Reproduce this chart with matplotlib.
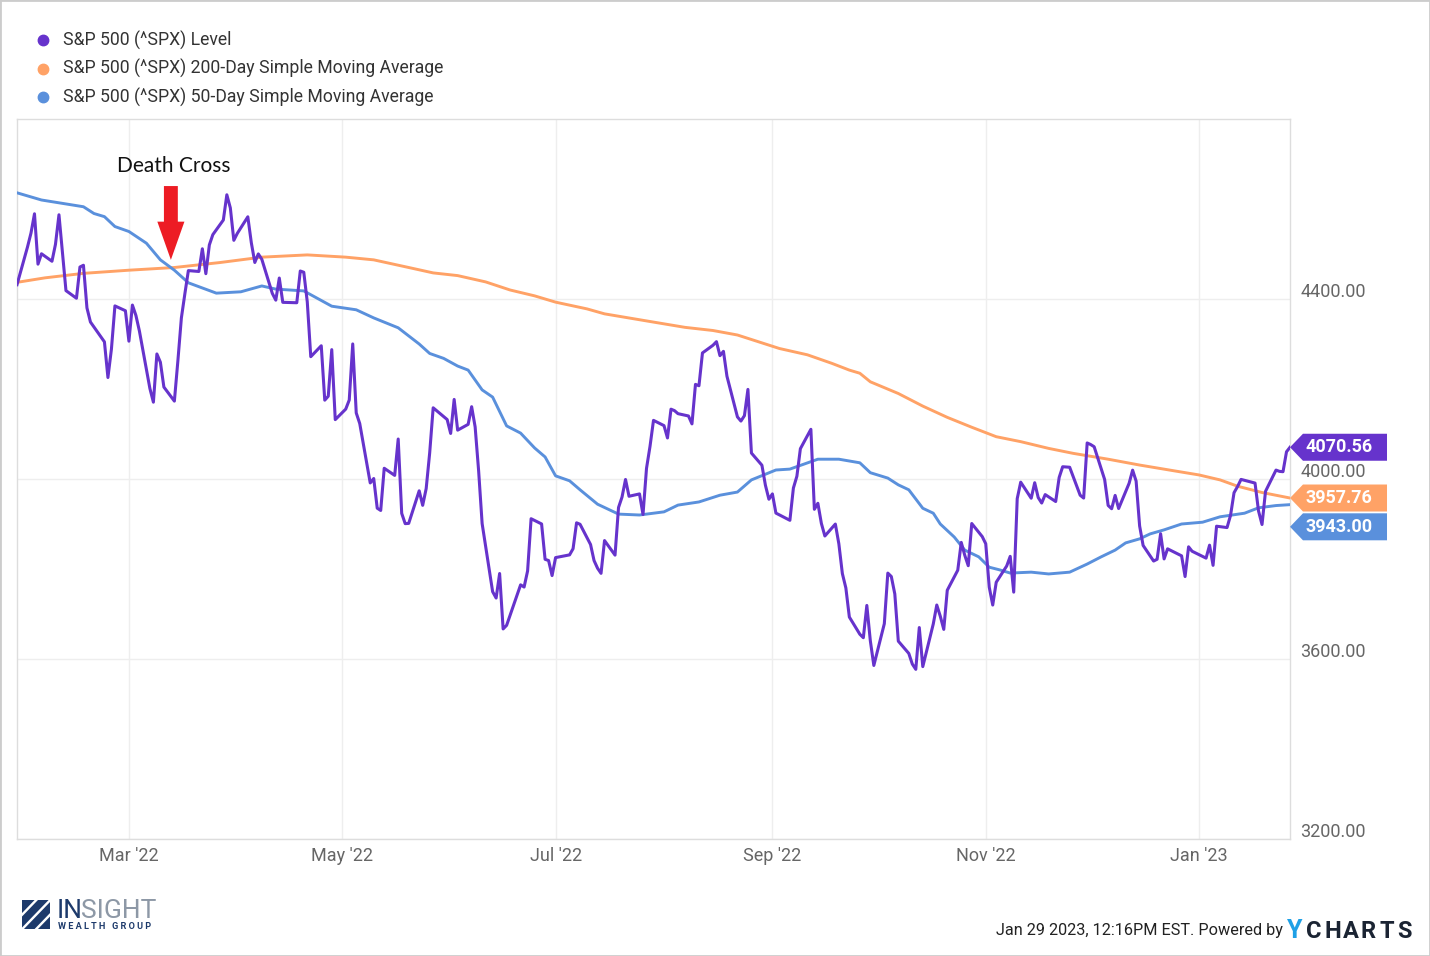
import matplotlib
matplotlib.use("Agg")
import matplotlib.pyplot as plt
import matplotlib.dates as mdates
import matplotlib.transforms as mtransforms
from matplotlib.patches import Polygon, Rectangle
from matplotlib.ticker import FuncFormatter
import pandas as pd

plt.rcParams['font.family'] = ['Roboto', 'DejaVu Sans']

PURPLE = '#6633cc'
ORANGE = '#ffa266'
BLUE = '#5a90dc'

# trading days Jan 28 2022 - Jan 27 2023
market_holidays = ['2022-02-21', '2022-04-15', '2022-05-30', '2022-06-20', '2022-07-04',
                   '2022-09-05', '2022-11-24', '2022-12-26', '2023-01-02', '2023-01-16']
close_dates = pd.bdate_range('2022-01-28', '2023-01-27', freq='C', holidays=market_holidays)

# S&P 500 level, month by month
spx_jan22 = [4431.85, 4515.55]
spx_feb22 = [4546.54, 4589.38, 4477.44, 4500.53, 4483.87, 4521.54, 4587.18, 4504.08, 4418.64, 4401.67,
             4471.07, 4475.01, 4380.26, 4348.87, 4304.76, 4225.50, 4288.70, 4384.65, 4373.94]
spx_mar22 = [4306.26, 4386.54, 4363.49, 4328.87, 4201.09, 4170.70, 4277.88, 4259.52, 4204.31, 4173.11,
             4262.45, 4357.86, 4411.67, 4463.12, 4461.18, 4511.61, 4456.24, 4520.16, 4543.06, 4575.52,
             4631.60, 4602.45, 4530.41]
spx_apr22 = [4545.86, 4582.64, 4525.12, 4481.15, 4500.21, 4488.28, 4412.53, 4397.45, 4446.59, 4392.59,
             4391.69, 4462.21, 4459.45, 4393.66, 4271.78, 4296.12, 4175.20, 4183.96, 4287.50, 4131.93]
spx_may22 = [4155.38, 4175.48, 4300.17, 4146.87, 4123.34, 3991.24, 4001.05, 3935.18, 3930.08, 4023.89,
             4008.01, 4088.85, 3923.68, 3900.79, 3901.36, 3973.75, 3941.48, 3978.73, 4057.84, 4158.24,
             4132.15]
spx_jun22 = [4101.23, 4176.82, 4108.54, 4121.43, 4160.68, 4115.77, 4017.82, 3900.86, 3749.63, 3735.48,
             3789.99, 3666.77, 3674.84, 3764.79, 3759.89, 3795.73, 3911.74, 3900.11, 3821.55, 3818.83,
             3785.38]
spx_jul22 = [3825.33, 3831.39, 3845.08, 3902.62, 3899.38, 3854.43, 3818.80, 3801.78, 3790.38, 3863.16,
             3830.85, 3936.69, 3959.90, 3998.95, 3961.63, 3966.84, 3921.05, 4023.61, 4072.43, 4130.29]
spx_aug22 = [4118.63, 4091.19, 4155.17, 4151.94, 4145.19, 4140.06, 4122.47, 4210.24, 4207.27, 4280.15,
             4297.14, 4305.20, 4274.04, 4283.74, 4228.48, 4137.99, 4128.73, 4140.77, 4199.12, 4057.66,
             4030.61, 3986.16, 3955.00]
spx_sep22 = [3966.85, 3924.26, 3908.19, 3979.87, 4006.18, 4067.36, 4110.41, 3932.69, 3946.01, 3901.35,
             3873.33, 3899.89, 3855.93, 3789.93, 3757.99, 3693.23, 3655.04, 3647.29, 3719.04, 3640.47,
             3585.62]
spx_oct22 = [3678.43, 3790.93, 3783.28, 3744.52, 3639.66, 3612.39, 3588.84, 3577.03, 3669.91, 3583.07,
             3677.95, 3719.98, 3695.16, 3665.78, 3752.75, 3797.34, 3859.11, 3830.60, 3807.30, 3901.06,
             3871.98]
spx_nov22 = [3856.10, 3759.69, 3719.89, 3770.55, 3806.80, 3828.11, 3748.57, 3956.37, 3992.93, 3957.25,
             3991.73, 3958.79, 3946.56, 3965.34, 3949.94, 4003.58, 4027.26, 4026.12, 3963.94, 3957.63,
             4080.11]
spx_dec22 = [4076.57, 4071.70, 3998.84, 3941.26, 3933.92, 3963.51, 3934.38, 3990.56, 4019.65, 3995.32,
             3895.75, 3852.36, 3817.66, 3821.62, 3878.44, 3822.39, 3844.82, 3829.25, 3783.22, 3849.28,
             3839.50]
spx_jan23 = [3824.14, 3852.97, 3808.10, 3895.08, 3892.09, 3919.25, 3969.61, 3983.17, 3999.09, 3990.97,
             3928.86, 3898.85, 3972.61, 4019.81, 4016.95, 4016.22, 4060.43, 4070.56]

spx_close = (spx_jan22 + spx_feb22 + spx_mar22 + spx_apr22 + spx_may22 + spx_jun22 + spx_jul22
             + spx_aug22 + spx_sep22 + spx_oct22 + spx_nov22 + spx_dec22 + spx_jan23)

# 200-day SMA
sma200_dates = ['2022-01-28', '2022-02-05', '2022-02-16', '2022-03-01', '2022-03-14', '2022-03-27',
                '2022-04-08', '2022-04-21', '2022-05-02', '2022-05-10', '2022-05-20', '2022-05-27',
                '2022-06-03', '2022-06-11', '2022-06-18', '2022-06-25', '2022-07-01', '2022-07-10',
                '2022-07-15', '2022-07-28', '2022-08-07', '2022-08-15', '2022-08-22', '2022-09-03',
                '2022-09-11', '2022-09-18', '2022-09-23', '2022-09-26', '2022-09-29', '2022-10-07',
                '2022-10-14', '2022-10-21', '2022-10-28', '2022-11-04', '2022-11-11', '2022-11-19',
                '2022-11-26', '2022-12-06', '2022-12-15', '2022-12-25', '2023-01-01', '2023-01-07',
                '2023-01-12', '2023-01-19', '2023-01-27']
sma200 = [4437, 4447, 4457, 4464, 4470, 4481,
          4493, 4498, 4493, 4487, 4470, 4458,
          4452, 4438, 4420, 4407, 4393, 4378,
          4367, 4350, 4337, 4330, 4320, 4290,
          4276, 4257, 4242, 4235, 4216, 4190,
          4162, 4137, 4115, 4094, 4083, 4068,
          4057, 4044, 4031, 4018, 4009, 3998,
          3984, 3970, 3957.76]

# 50-day SMA
sma50_dates = ['2022-01-28', '2022-02-04', '2022-02-16', '2022-02-19', '2022-02-22', '2022-02-25',
               '2022-03-01', '2022-03-06', '2022-03-10', '2022-03-14', '2022-03-18', '2022-03-26',
               '2022-04-02', '2022-04-08', '2022-04-12', '2022-04-20', '2022-04-28', '2022-05-05',
               '2022-05-10', '2022-05-17', '2022-05-23', '2022-05-26', '2022-05-30', '2022-06-03',
               '2022-06-06', '2022-06-10', '2022-06-13', '2022-06-17', '2022-06-21', '2022-06-25',
               '2022-06-28', '2022-07-01', '2022-07-05', '2022-07-08', '2022-07-13', '2022-07-19',
               '2022-07-25', '2022-08-01', '2022-08-05', '2022-08-11', '2022-08-17', '2022-08-22',
               '2022-08-26', '2022-09-02', '2022-09-06', '2022-09-10', '2022-09-14', '2022-09-20',
               '2022-09-26', '2022-09-29', '2022-10-04', '2022-10-07', '2022-10-10', '2022-10-14',
               '2022-10-17', '2022-10-19', '2022-10-23', '2022-10-26', '2022-10-30', '2022-11-02',
               '2022-11-05', '2022-11-08', '2022-11-14', '2022-11-19', '2022-11-25', '2022-11-30',
               '2022-12-04', '2022-12-08', '2022-12-11', '2022-12-15', '2022-12-18', '2022-12-22',
               '2022-12-27', '2023-01-02', '2023-01-07', '2023-01-14', '2023-01-18', '2023-01-23',
               '2023-01-27']
sma50 = [4636, 4620, 4605, 4590, 4583, 4561,
         4550, 4524, 4487, 4464, 4436, 4413,
         4416, 4429, 4422, 4418, 4384, 4376,
         4358, 4336, 4300, 4279, 4268, 4251,
         4242, 4198, 4182, 4118, 4102, 4069,
         4049, 4007, 3996, 3976, 3944, 3922,
         3920, 3927, 3942, 3949, 3964, 3971,
         3998, 4020, 4022, 4033, 4044, 4044,
         4036, 4014, 4002, 3987, 3976, 3935,
         3924, 3900, 3871, 3842, 3827, 3804,
         3798, 3791, 3793, 3789, 3793, 3811,
         3827, 3842, 3858, 3867, 3878, 3887,
         3900, 3904, 3916, 3924, 3936, 3941,
         3943.00]

series_names = ['S&P 500 (^SPX) Level',
                'S&P 500 (^SPX) 200-Day Simple Moving Average',
                'S&P 500 (^SPX) 50-Day Simple Moving Average']

W, H = 1430, 956
fig = plt.figure(figsize=(W / 100, H / 100), dpi=100)
fig.patch.set_facecolor('white')
ax = fig.add_axes([17 / W, (H - 839) / H, 1273 / W, 720 / H])

ax.plot(pd.to_datetime(sma200_dates), sma200, color=ORANGE, lw=2.1, zorder=3)
ax.plot(pd.to_datetime(sma50_dates), sma50, color=BLUE, lw=2.1, zorder=3)
ax.plot(close_dates, spx_close, color=PURPLE, lw=2.2, zorder=4)

ax.set_xlim(pd.Timestamp('2022-01-28'), pd.Timestamp('2023-01-27'))
ax.set_ylim(3200, 4800)
ax.yaxis.tick_right()
ax.set_yticks([3200, 3600, 4000, 4400])
ax.yaxis.set_major_formatter(FuncFormatter(lambda v, p: f'{v:.2f}'))
ax.xaxis.set_major_locator(mdates.MonthLocator(bymonth=[1, 3, 5, 7, 9, 11]))
ax.xaxis.set_major_formatter(mdates.DateFormatter("%b '%y"))
ax.tick_params(axis='both', length=0, labelsize=13, colors='#666666')
ax.tick_params(axis='x', pad=5.5)
ax.tick_params(axis='y', pad=7.5)
ax.grid(color='#eeeeee', lw=1)
ax.set_axisbelow(True)
for s in ax.spines.values():
    s.set_color('#dddddd')
    s.set_linewidth(1)

# y labels sit a bit above their gridlines
shift = mtransforms.ScaledTranslation(0, 9 / 100, fig.dpi_scale_trans)
for lab in ax.get_yticklabels():
    lab.set_transform(lab.get_transform() + shift)

# death cross marker
dc_date = pd.Timestamp('2022-03-13')
ax.annotate('', xy=(dc_date, 4487), xytext=(dc_date, 4651),
            arrowprops=dict(arrowstyle='simple,head_length=2.75,head_width=1.95,tail_width=1.0',
                            mutation_scale=10, color='#ed1c24', lw=0, shrinkA=0, shrinkB=0))
ax.text(pd.Timestamp('2022-03-13 21:00'), 4696, 'Death Cross', ha='center', va='center',
        fontsize=15, color='#111111', family=['Lato', 'DejaVu Sans'])

# value tags on the right
blend = mtransforms.blended_transform_factory(ax.transAxes, ax.transData)
tag_h = 60
tags = [(spx_close[-1], PURPLE), (sma200[-1], ORANGE), (sma50[-1], BLUE)]
prev = None
for val, col in sorted(tags, key=lambda t: -t[0]):
    c = val
    if prev is not None and prev - c < tag_h + 4:
        c = prev - tag_h - 4
    prev = c
    poly = Polygon([(1.0, c), (1.0102, c + tag_h / 2), (1.0762, c + tag_h / 2),
                    (1.0762, c - tag_h / 2), (1.0102, c - tag_h / 2)],
                   closed=True, transform=blend, facecolor=col, edgecolor='none',
                   clip_on=False, zorder=5)
    ax.add_patch(poly)
    ax.text(1.0385, c, f'{val:.2f}', transform=blend, ha='center', va='center',
            color='white', fontsize=13, fontweight='bold', clip_on=False, zorder=6)

# legend
for i, (name, col) in enumerate(zip(series_names, [PURPLE, ORANGE, BLUE])):
    y = 1 - (40 + i * 28.5) / H
    fig.add_artist(plt.Line2D([43 / W], [y], marker='o', markersize=7.5, color=col,
                              linestyle='none', transform=fig.transFigure))
    fig.text(63 / W, y, name, ha='left', va='center', fontsize=12.7, color='#333333')

# footer
fig.text(1283 / W, 1 - 931 / H, 'Jan 29 2023, 12:16PM EST. Powered by', ha='right', va='center',
         fontsize=11.7, color='#222222')
fig.text(1287 / W, 1 - 931 / H, 'Y', ha='left', va='center', fontsize=18, fontweight='bold',
         color='#1ea0e6')
for k, ch in enumerate('CHARTS'):
    fig.text((1306 + k * 18.3) / W, 1 - 931 / H, ch, ha='left', va='center', fontsize=17,
             fontweight='bold', color='#1b2433')

# insight logo
lax = fig.add_axes([22 / W, 1 - 929 / H, 28 / W, 29 / H])
lax.set_xlim(0, 1)
lax.set_ylim(0, 1)
lax.axis('off')
lax.add_patch(Rectangle((0, 0), 1, 1, facecolor='#1d3a6b', edgecolor='none'))
for off in [-0.55, -0.05, 0.45]:
    lax.add_patch(Polygon([(off, 0), (off + 0.12, 0), (off + 1.12, 1), (off + 1.0, 1)],
                          closed=True, facecolor='white', edgecolor='none', clip_on=True,
                          clip_path=lax.patch))
fig.text(57 / W, 1 - 911 / H, 'IN', ha='left', va='center', fontsize=19, color='#1d3a6b')
fig.text(81 / W, 1 - 911 / H, 'SIGHT', ha='left', va='center', fontsize=19, color='#8d98a6')
fig.text(58 / W, 1 - 926.5 / H, 'W E A L T H   G R O U P', ha='left', va='center', fontsize=6.6,
         color='#1d3a6b', fontweight='bold')

fig.add_artist(Rectangle((0, 0), 1, 1, transform=fig.transFigure, fill=False,
                         edgecolor='#cccccc', lw=2))

fig.savefig('out.png', dpi=100)
